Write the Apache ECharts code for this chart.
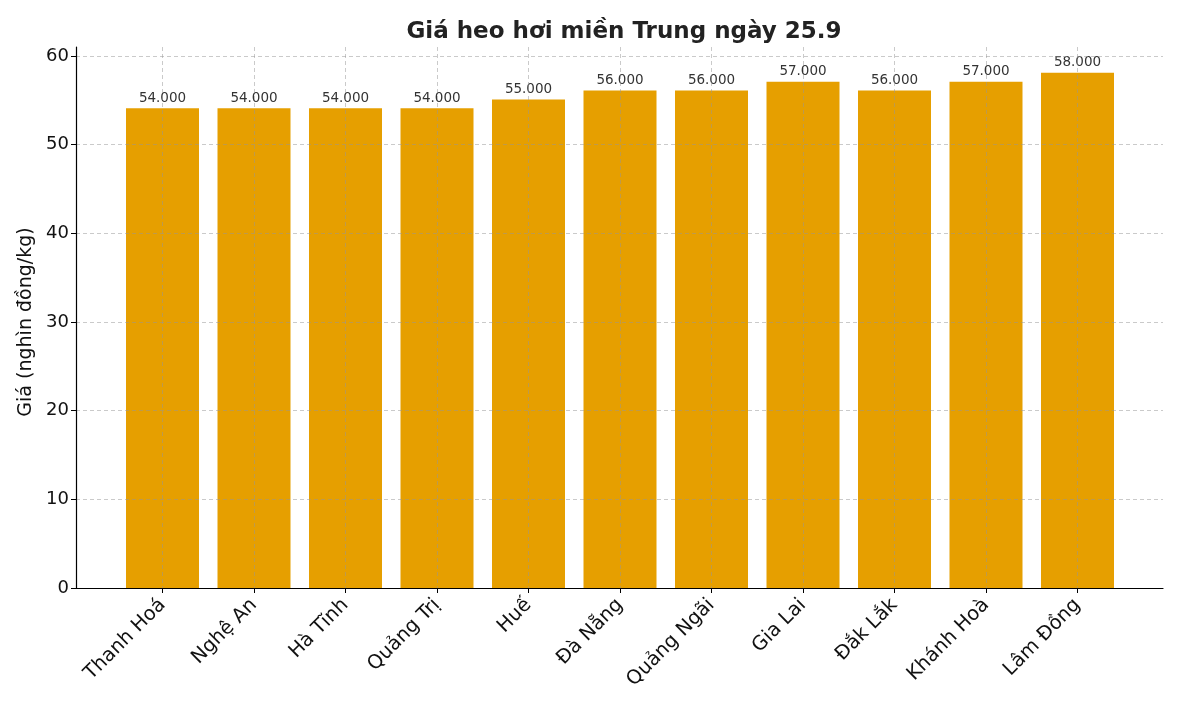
<!DOCTYPE html>
<html>
<head>
<meta charset="UTF-8">
<title>Giá heo hơi miền Trung ngày 25.9</title>
<script src="https://cdn.jsdelivr.net/npm/echarts@6/dist/echarts.min.js"></script>
<style>
    html, body { margin: 0; padding: 0; background: #fff; }
    #chart { width: 1181px; height: 709px; }
</style>
</head>
<body>
<div id="chart"></div>
<script type="text/javascript">
    // du lieu
    var provinces = ['Thanh Hoá', 'Nghệ An', 'Hà Tĩnh', 'Quảng Trị', 'Huế', 'Đà Nẵng',
                     'Quảng Ngãi', 'Gia Lai', 'Đắk Lắk', 'Khánh Hoà', 'Lâm Đồng'];
    var prices = [54, 54, 54, 54, 55, 56, 56, 57, 56, 57, 58];
    var yTicks = [0, 10, 20, 30, 40, 50, 60];

    var font = 'DejaVu Sans';
    var gridColor = 'rgba(150,150,150,0.5)';

    var myChart = echarts.init(document.getElementById('chart'));

    var option = {
        backgroundColor: '#ffffff',
        animation: false,
        textStyle: { fontFamily: font },
        title: {
            text: 'Giá heo hơi miền Trung ngày 25.9',
            left: 619,
            top: 16,
            textAlign: 'center',
            textStyle: { fontFamily: font, fontSize: 23, fontWeight: 'bold', color: '#222' }
        },
        grid: [
            // khung chinh: luoi ngang, truc x
            { left: 76, right: 18, top: 56, bottom: 121 },
            // cot: tam cot dau / cuoi nam tren bien
            { left: 162.5, right: 103.5, top: 47, bottom: 121 }
        ],
        xAxis: [{
            gridIndex: 0,
            type: 'value',
            min: 0,
            max: 1,
            z: 5,
            axisLine: { show: true, lineStyle: { color: '#000', width: 1.2 } },
            axisTick: { show: false },
            axisLabel: { show: false },
            splitLine: { show: false }
        }, {
            gridIndex: 1,
            type: 'category',
            boundaryGap: false,
            data: provinces,
            z: 5,
            axisLine: { show: false },
            axisTick: { show: true, inside: false, length: 5, lineStyle: { color: '#000' } },
            axisLabel: {
                rotate: 45,
                margin: 14,
                fontSize: 19.5,
                color: '#111',
                fontFamily: font
            },
            splitLine: { show: true, lineStyle: { color: gridColor, type: [4, 3] } }
        }],
        yAxis: [{
            gridIndex: 0,
            type: 'value',
            min: yTicks[0],
            max: yTicks[yTicks.length - 1],
            interval: 10,
            z: 5,
            axisLine: { show: false },
            axisTick: { show: true, length: 5, lineStyle: { color: '#000' } },
            axisLabel: { fontSize: 18, color: '#111', margin: 7, fontFamily: font },
            splitLine: { show: true, lineStyle: { color: gridColor, type: [4, 3] } },
            name: 'Giá (nghìn đồng/kg)',
            nameLocation: 'middle',
            nameGap: 38,
            nameTextStyle: { fontSize: 19, color: '#111', fontFamily: font }
        }, {
            gridIndex: 1,
            type: 'value',
            min: 0,
            max: 60.9,
            offset: 86.5,
            z: 5,
            axisLine: { show: true, lineStyle: { color: '#000', width: 1.2 } },
            axisTick: { show: false },
            axisLabel: { show: false },
            splitLine: { show: false }
        }],
        series: [{
            name: 'Giá',
            type: 'bar',
            xAxisIndex: 1,
            yAxisIndex: 1,
            z: 1,
            clip: false,
            barWidth: 73,
            data: prices,
            itemStyle: { color: '#E69F00' },
            label: {
                show: true,
                position: 'top',
                distance: 3,
                fontSize: 13.5,
                color: '#333',
                fontFamily: font,
                formatter: function (p) { return p.value + '.000'; }
            }
        }]
    };
    myChart.setOption(option);
</script>
</body>
</html>
